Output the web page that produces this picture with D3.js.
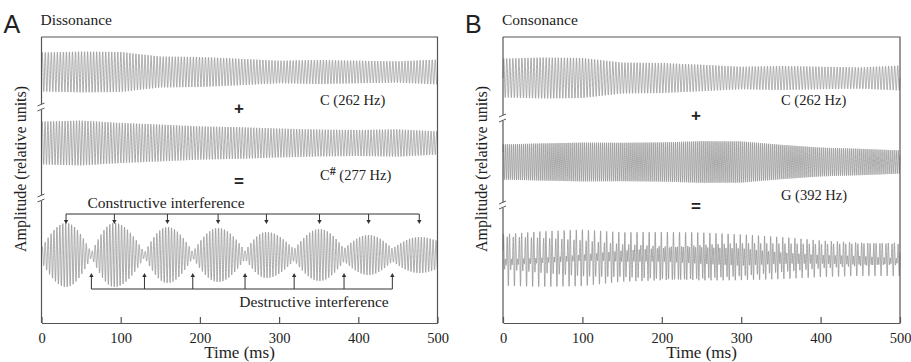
<!DOCTYPE html>
<html>
<head>
<meta charset="utf-8">
<script src="https://cdn.jsdelivr.net/npm/d3@7/dist/d3.min.js"></script>
<style>
  body { margin: 0; background: #fff; }
  text { font-family: "Liberation Serif", "DejaVu Serif", serif; fill: #222; }
</style>
</head>
<body>
<svg id="chart" width="911" height="362"></svg>
<script>
// ---- data ----
const xTicks = [0, 100, 200, 300, 400, 500];
const freqC = 262, freqCs = 277, freqG = 392;

// amplitude envelopes (relative units) sampled every 50 ms
const envTimes = [0, 50, 100, 150, 200, 250, 300, 350, 400, 450, 500];
const ampC262  = [0.97, 1.02, 1.0, 0.77, 0.75, 0.66, 0.56, 0.6, 0.56, 0.53, 0.62];
const ampCs277 = [1.07, 1.12, 1.0, 0.92, 0.83, 0.79, 0.72, 0.67, 0.65, 0.68, 0.58];
const ampG392  = [0.88, 0.93, 0.97, 0.96, 0.98, 1.04, 1.03, 0.86, 0.72, 0.66, 0.58];

// beating envelope of C + C#, read at the peaks and the nodes
const beatTimes = [0, 31, 63, 92, 130, 159, 191, 223, 257, 284, 319, 351, 382, 413, 443, 477, 500];
const beatAmp   = [0.35, 1.6, 0.12, 1.6, 0.12, 1.4, 0.15, 1.35, 0.2, 1.15, 0.28, 1.3, 0.32, 1.0, 0.32, 0.9, 0.7];

const constructiveTimes = [31, 92, 159, 223, 284, 351, 413, 477];
const destructiveTimes  = [63, 130, 191, 257, 319, 382, 443];

const consonantMix = 0.75;   // scale of the C+G sum trace

// ---- drawing ----
const svg = d3.select('#chart');
const frameTop = 37, frameBottom = 323;
const waveColor = '#858585';
const axisColor = '#555';

const envC = d3.scaleLinear().domain(envTimes).range(ampC262);
const envCs = d3.scaleLinear().domain(envTimes).range(ampCs277);
const envG = d3.scaleLinear().domain(envTimes).range(ampG392);

// peak <-> node, rounded at the peaks and pointed at the nodes
function beatEnv(t) {
  let i = d3.bisectRight(beatTimes, t) - 1;
  i = Math.max(0, Math.min(beatTimes.length - 2, i));
  const t0 = beatTimes[i], t1 = beatTimes[i + 1];
  const a0 = beatAmp[i], a1 = beatAmp[i + 1];
  const s = (t - t0) / (t1 - t0);
  if (a1 > a0) return a0 + (a1 - a0) * Math.sin(s * Math.PI / 2);
  return a1 + (a0 - a1) * Math.cos(s * Math.PI / 2);
}

const tw = 2 * Math.PI / 1000;   // ms -> rad per Hz
const signals = {
  C: t => envC(t) * Math.sin(tw * freqC * t),
  Cs: t => envCs(t) * Math.sin(tw * freqCs * t),
  G: t => envG(t) * Math.sin(tw * freqG * t + 0.6),
  beat: t => beatEnv(t) * Math.sin(tw * (freqC + freqCs) / 2 * t),
  CG: t => consonantMix * (envC(t) * Math.sin(tw * freqC * t) + envG(t) * Math.sin(tw * freqG * t + 0.6))
};

const panels = [
  {
    letter: 'A', title: 'Dissonance', x0: 41.5, x1: 437.5,
    centers: [72, 143, 255], breaks: [107, 198],
    traces: ['C', 'Cs', 'beat'],
    labels: [{ name: 'C', sup: '', hz: freqC, y: 105 }, { name: 'C', sup: '#', hz: freqCs, y: 180 }],
    opY: [108, 181], labelX: 320, opX: 239
  },
  {
    letter: 'B', title: 'Consonance', x0: 503, x1: 900,
    centers: [78, 162, 258], breaks: [118, 205],
    traces: ['C', 'G', 'CG'],
    labels: [{ name: 'C', sup: '', hz: freqC, y: 105 }, { name: 'G', sup: '', hz: freqG, y: 200 }],
    opY: [115, 206], labelX: 781, opX: 696
  }
];

const N = 12000;
const samples = d3.range(N + 1).map(i => i / N * 500);

panels.forEach(p => {
  const g = svg.append('g');
  const x = d3.scaleLinear().domain([0, 500]).range([p.x0, p.x1]);

  // waves
  p.traces.forEach((key, r) => {
    const y = d3.scaleLinear().domain([-1, 1]).range([p.centers[r] + 20, p.centers[r] - 20]);
    const line = d3.line().x(t => x(t)).y(t => y(signals[key](t)));
    g.append('path')
      .attr('d', line(samples))
      .attr('fill', 'none')
      .attr('stroke', waveColor)
      .attr('stroke-width', 0.7);
  });

  // frame
  g.append('path')
    .attr('d', `M${p.x0},${frameTop}H${p.x1}V${frameBottom}`)
    .attr('fill', 'none').attr('stroke', axisColor).attr('stroke-width', 1.2);
  const xAxis = d3.axisBottom(x).tickValues(xTicks).tickSizeInner(-6).tickSizeOuter(0).tickPadding(10);
  const ax = g.append('g').attr('transform', `translate(0,${frameBottom})`).call(xAxis);
  ax.select('.domain').attr('stroke', axisColor).attr('stroke-width', 1.2);
  ax.selectAll('.tick line').attr('stroke', axisColor).attr('stroke-width', 1.2);
  ax.selectAll('.tick text')
    .attr('font-family', '"Liberation Serif", serif').attr('font-size', 14.5).attr('fill', '#222');

  // broken left spine
  const segs = [frameTop, ...p.breaks.flatMap(b => [b - 3, b + 3]), frameBottom];
  for (let i = 0; i < segs.length; i += 2) {
    g.append('line').attr('x1', p.x0).attr('x2', p.x0).attr('y1', segs[i]).attr('y2', segs[i + 1])
      .attr('stroke', axisColor).attr('stroke-width', 1.2);
  }
  p.breaks.forEach(b => {
    [-2.5, 2.5].forEach(dy => {
      g.append('line')
        .attr('x1', p.x0 - 4).attr('y1', b + dy + 1.5)
        .attr('x2', p.x0 + 3).attr('y2', b + dy - 1.5)
        .attr('stroke', axisColor).attr('stroke-width', 1);
    });
  });

  // titles
  g.append('text').attr('x', p.x0 - 38).attr('y', 33)
    .style('font-family', '"Liberation Sans", Arial, sans-serif').attr('font-size', 25).text(p.letter);
  g.append('text').attr('x', p.x0 - 1).attr('y', 25).attr('font-size', 15.5).text(p.title);

  g.append('text')
    .attr('transform', `translate(${p.x0 - 16},169) rotate(-90)`)
    .attr('text-anchor', 'middle').attr('font-size', 16)
    .text('Amplitude (relative units)');
  g.append('text').attr('x', (p.x0 + p.x1) / 2).attr('y', 358)
    .attr('text-anchor', 'middle').attr('font-size', 17).text('Time (ms)');

  // tone labels
  p.labels.forEach(l => {
    const t = g.append('text').attr('x', p.labelX).attr('y', l.y).attr('font-size', 14.5);
    t.append('tspan').text(l.name);
    if (l.sup) t.append('tspan').attr('dy', -5).attr('font-size', 12).attr('font-weight', 'bold').text(l.sup);
    t.append('tspan').attr('dy', l.sup ? 5 : 0).text(` (${l.hz} Hz)`);
  });
  ['+', '='].forEach((s, i) => {
    g.append('text').attr('x', p.opX).attr('y', p.opY[i]).attr('dy', '0.35em')
      .attr('text-anchor', 'middle')
      .style('font-family', '"Liberation Sans", Arial, sans-serif')
      .attr('font-weight', 'bold').attr('font-size', 17).text(s);
  });

  // interference annotations (panel A only)
  if (p.letter === 'A') {
    const ann = g.append('g').attr('stroke', '#333').attr('stroke-width', 1);
    const cy = 214, dyLine = 289;
    ann.append('line').attr('x1', x(constructiveTimes[0])).attr('x2', x(constructiveTimes[constructiveTimes.length - 1]))
      .attr('y1', cy).attr('y2', cy);
    ann.selectAll('.ca').data(constructiveTimes).join('line')
      .attr('x1', d => x(d)).attr('x2', d => x(d)).attr('y1', cy).attr('y2', cy + 7);
    ann.selectAll('.ch').data(constructiveTimes).join('path')
      .attr('d', d => `M${x(d) - 2.2},${cy + 6}L${x(d) + 2.2},${cy + 6}L${x(d)},${cy + 10}Z`)
      .attr('fill', '#333').attr('stroke', 'none');

    ann.append('line').attr('x1', x(destructiveTimes[0])).attr('x2', x(destructiveTimes[destructiveTimes.length - 1]))
      .attr('y1', dyLine).attr('y2', dyLine);
    ann.selectAll('.da').data(destructiveTimes).join('line')
      .attr('x1', d => x(d)).attr('x2', d => x(d)).attr('y1', dyLine).attr('y2', dyLine - 13);
    ann.selectAll('.dh').data(destructiveTimes).join('path')
      .attr('d', d => `M${x(d) - 2.2},${dyLine - 12}L${x(d) + 2.2},${dyLine - 12}L${x(d)},${dyLine - 16}Z`)
      .attr('fill', '#333').attr('stroke', 'none');

    g.append('text').attr('x', 166).attr('y', 208).attr('text-anchor', 'middle').attr('font-size', 15.5)
      .text('Constructive interference');
    g.append('text').attr('x', 314).attr('y', 307).attr('text-anchor', 'middle').attr('font-size', 15.5)
      .text('Destructive interference');
  }
});
</script>
</body>
</html>
